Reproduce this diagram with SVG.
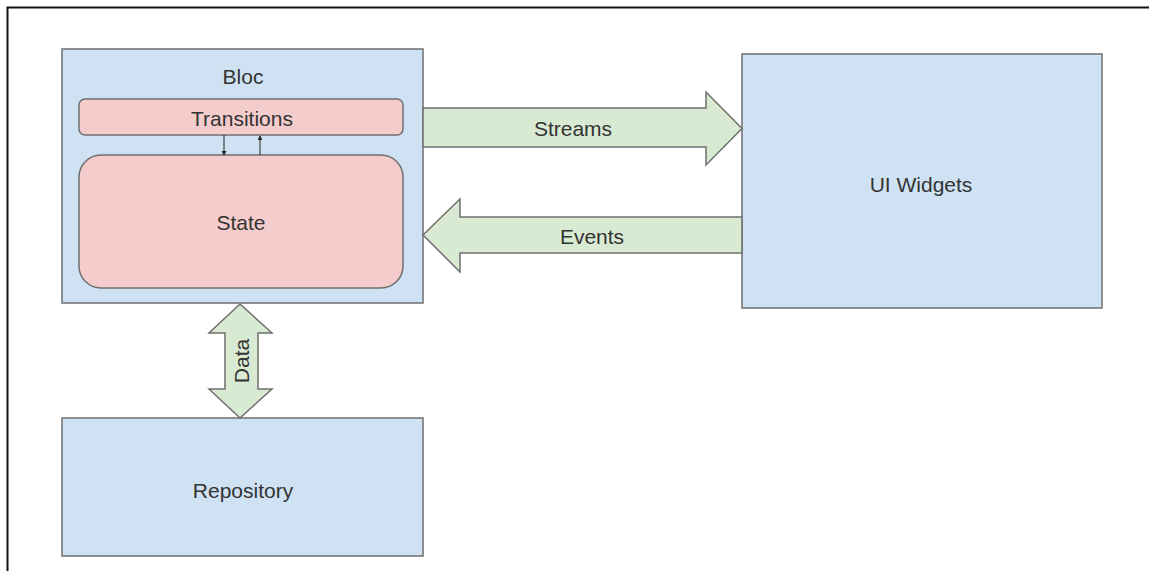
<svg xmlns="http://www.w3.org/2000/svg" width="1149" height="571" viewBox="0 0 1149 571">
<defs>
<style>
.box{fill:#cfe2f3;stroke:#6f6f6f;stroke-width:1.5}
.pink{fill:#f4cccc;stroke:#6f6f6f;stroke-width:1.5}
.green{fill:#d9ead3;stroke:#6f6f6f;stroke-width:1.5;stroke-linejoin:miter}
.t{font-family:"Liberation Sans",Arial,sans-serif;font-size:21px;fill:#333;text-anchor:middle;dominant-baseline:central}
.thin{stroke:#222;stroke-width:1;fill:none}
</style>
<marker id="ah" viewBox="0 0 6 6" refX="5" refY="3" markerWidth="5" markerHeight="5" orient="auto" markerUnits="userSpaceOnUse">
<path d="M0,0 L6,3 L0,6 z" fill="#222"/>
</marker>
</defs>
<rect width="1149" height="571" fill="#fff"/>
<path d="M7.5,571 L7.5,7.5 L1149,7.5" fill="none" stroke="#111" stroke-width="2"/>
<g id="bloc">
<rect class="box" x="62" y="49" width="361" height="254"/>
<text class="t" x="243" y="76">Bloc</text>
</g>
<g id="transitions">
<rect class="pink" x="79" y="99" width="324" height="36" rx="6"/>
<text class="t" x="242" y="118">Transitions</text>
</g>
<g id="state">
<rect class="pink" x="79" y="155" width="324" height="133" rx="22"/>
<text class="t" x="241" y="222">State</text>
</g>
<g id="ui-widgets">
<rect class="box" x="742" y="54" width="360" height="254"/>
<text class="t" x="921" y="184">UI Widgets</text>
</g>
<g id="repository">
<rect class="box" x="62" y="418" width="361" height="138"/>
<text class="t" x="243" y="490">Repository</text>
</g>
<g id="connectors">
<line class="thin" x1="224" y1="135" x2="224" y2="155" marker-end="url(#ah)"/>
<line class="thin" x1="260" y1="155" x2="260" y2="136" marker-end="url(#ah)"/>
<path class="green" d="M423,108 L706,108 L706,92 L742,128.5 L706,165 L706,147 L423,147 Z"/>
<text class="t" x="573" y="128">Streams</text>
<path class="green" d="M742,217 L460,217 L460,199 L423,235 L460,272 L460,253 L742,253 Z"/>
<text class="t" x="592" y="236">Events</text>
<path class="green" d="M240,304 L272,333 L258,333 L258,389 L272,389 L240,418 L209,389 L225,389 L225,333 L209,333 Z"/>
<text class="t" x="241" y="361" transform="rotate(-90 241 361)">Data</text>
</g>
</svg>
